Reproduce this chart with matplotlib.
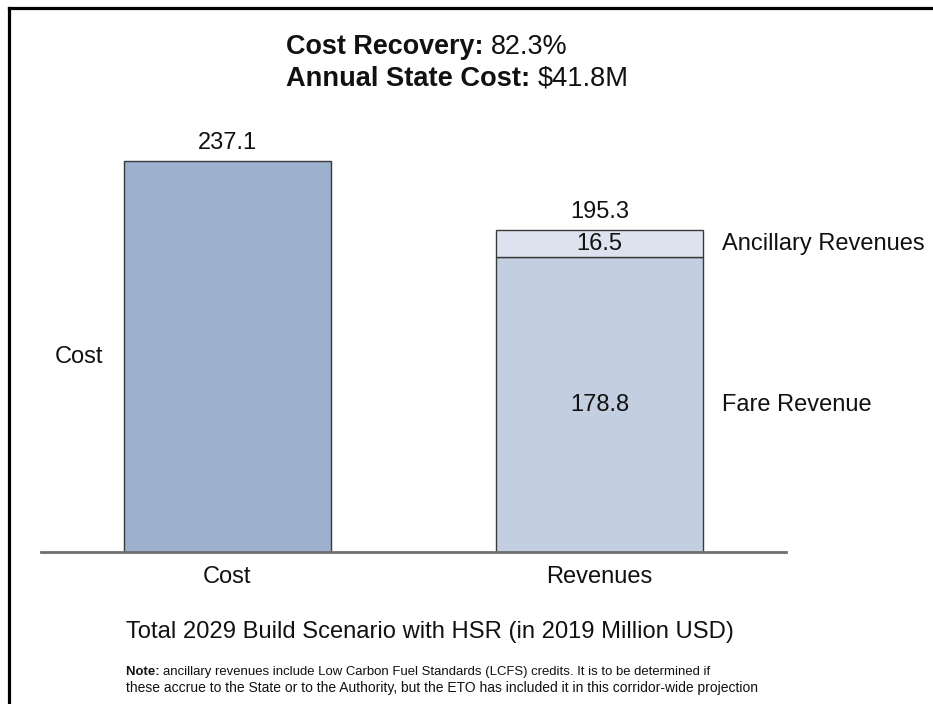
import matplotlib
matplotlib.use("Agg")
import matplotlib.pyplot as plt
from matplotlib.lines import Line2D

plt.rcParams["font.family"] = ["Liberation Sans", "DejaVu Sans"]

# Data (2019 Million USD)
categories = ["Cost", "Revenues"]
cost_total = [237.1]
fare_revenue = [178.8]
ancillary_revenue = [16.5]
revenue_total = [195.3]
cost_recovery = "82.3%"
state_cost = "$41.8M"

W, H = 933, 704
fig = plt.figure(figsize=(W / 100, H / 100), dpi=100)
fig.patch.set_facecolor("white")
renderer = fig.canvas.get_renderer()
txt = "#111111"


def run_of_text(x_px, y_px, parts, width_px):
    """Draw a line of mixed-weight text starting at x_px, sized to span width_px."""
    probes = [fig.text(0, 0, s, fontsize=10, fontweight=w) for s, w in parts]
    total = sum(p.get_window_extent(renderer).width for p in probes)
    for p in probes:
        p.remove()
    size = 10 * width_px / total
    x = x_px
    for s, w in parts:
        t = fig.text(x / W, 1 - y_px / H, s, fontsize=size, fontweight=w,
                     ha="left", va="center", color=txt)
        x += t.get_window_extent(renderer).width
    return size


# outer frame (top and left rules)
fig.add_artist(Line2D([8.5 / W, 8.5 / W], [0, 1 - 7.5 / H], color="black", linewidth=2.3))
fig.add_artist(Line2D([8.5 / W, 1], [1 - 7.5 / H, 1 - 7.5 / H], color="black", linewidth=2.3))

# axes placed in pixel terms
ax_l, ax_r, ax_b, ax_t = 41, 786, 552, 100
ax = fig.add_axes([ax_l / W, (H - ax_b) / H, (ax_r - ax_l) / W, (ax_b - ax_t) / H])
ax.set_xlim(-0.5, 1.5)
ax.set_ylim(0, 274.1)
ax.axis("off")

width = 0.556
edge = "#3a3a3a"

ax.bar([0], cost_total, width=width, color="#9db0cd", edgecolor=edge, linewidth=1.0, zorder=2)
ax.bar([1], fare_revenue, width=width, color="#c3cee1", edgecolor=edge, linewidth=1.0, zorder=2)
ax.bar([1], ancillary_revenue, bottom=fare_revenue, width=width, color="#dce3ef",
       edgecolor=edge, linewidth=1.0, zorder=2)

# baseline
ax.plot([-0.5, 1.5], [0, 0], color="#6f6f6f", linewidth=2.0, clip_on=False, zorder=3)

fs = 17
ax.text(0, cost_total[0] + 4, f"{cost_total[0]:.1f}", ha="center", va="bottom", fontsize=fs, color=txt)
ax.text(1, revenue_total[0] + 4, f"{revenue_total[0]:.1f}", ha="center", va="bottom", fontsize=fs, color=txt)
ax.text(1, fare_revenue[0] + ancillary_revenue[0] / 2, f"{ancillary_revenue[0]:.1f}",
        ha="center", va="center", fontsize=fs, color=txt)
ax.text(1, fare_revenue[0] / 2, f"{fare_revenue[0]:.1f}", ha="center", va="center", fontsize=fs, color=txt)

# segment names beside the bars
ax.text(1.329, fare_revenue[0] + ancillary_revenue[0] / 2, "Ancillary Revenues",
        ha="left", va="center", fontsize=fs, color=txt, clip_on=False)
ax.text(1.329, fare_revenue[0] / 2, "Fare Revenue", ha="left", va="center", fontsize=fs, color=txt, clip_on=False)
ax.text(-0.462, cost_total[0] / 2, "Cost", ha="left", va="center", fontsize=fs, color=txt, clip_on=False)

# category labels
for i, c in enumerate(categories):
    ax.text(i, -15, c, ha="center", va="center", fontsize=fs, color=txt, clip_on=False)

# headline figures
run_of_text(286, 47, [("Cost Recovery: ", "bold"), (cost_recovery, "normal")], 282)
run_of_text(286, 79, [("Annual State Cost: ", "bold"), (state_cost, "normal")], 342)

# chart caption
run_of_text(126, 632, [("Total 2029 Build Scenario with HSR (in 2019 Million USD)", "normal")], 609)

# footnote
run_of_text(126, 672, [("Note: ", "bold"),
                       ("ancillary revenues include Low Carbon Fuel Standards (LCFS) credits. "
                        "It is to be determined if", "normal")], 588)
run_of_text(126, 688, [("these accrue to the State or to the Authority, but the ETO has included it "
                        "in this corridor-wide projection", "normal")], 631)

fig.savefig("out.png", dpi=100, facecolor="white")
